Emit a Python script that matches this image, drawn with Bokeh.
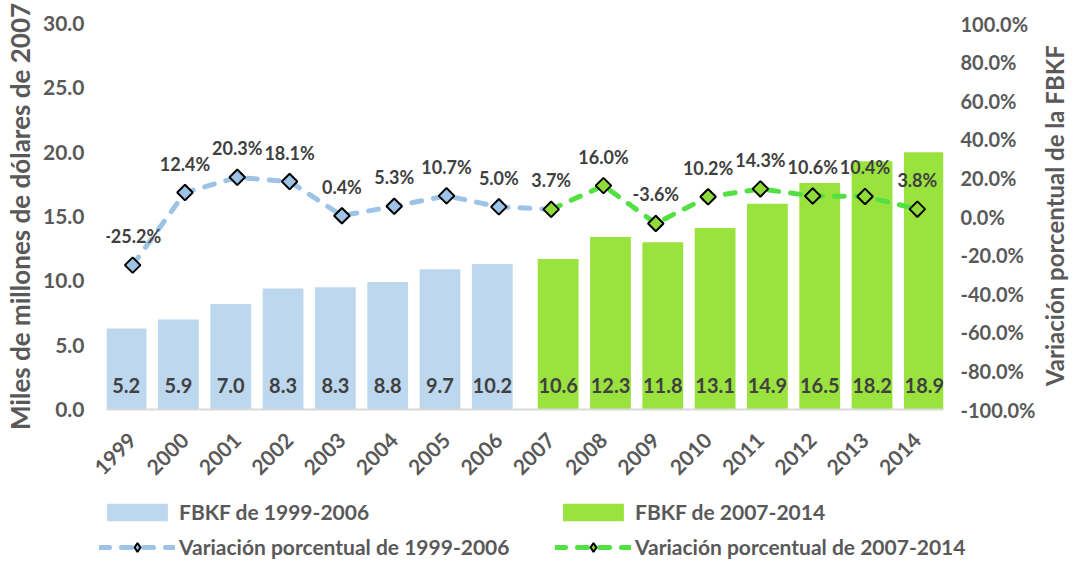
import math
from bokeh.plotting import figure
from bokeh.layouts import column, row
from bokeh.models import (Range1d, LinearAxis, FixedTicker, PrintfTickFormatter,
                          Legend, LegendItem, ColumnDataSource, Label)
from bokeh.transform import dodge
from bokeh.core.properties import value
from bokeh.embed import file_html
from bokeh.resources import INLINE

# ---------------- data ----------------
years = [1999, 2000, 2001, 2002, 2003, 2004, 2005, 2006,
         2007, 2008, 2009, 2010, 2011, 2012, 2013, 2014]
# bar heights as drawn (left axis units)
fbkf_bar = [6.3, 7.0, 8.2, 9.4, 9.5, 9.9, 10.9, 11.3,
            11.7, 13.4, 13.0, 14.1, 16.0, 17.6, 19.3, 20.0]
# data labels printed inside the bars
fbkf_label = [5.2, 5.9, 7.0, 8.3, 8.3, 8.8, 9.7, 10.2,
              10.6, 12.3, 11.8, 13.1, 14.9, 16.5, 18.2, 18.9]
# percentage change (right axis)
pct = [-25.2, 12.4, 20.3, 18.1, 0.4, 5.3, 10.7, 5.0,
       3.7, 16.0, -3.6, 10.2, 14.3, 10.6, 10.4, 3.8]
left_ticks = [0, 5, 10, 15, 20, 25, 30]
right_ticks = [-100, -80, -60, -40, -20, 0, 20, 40, 60, 80, 100]
left_title = "Miles de millones de dólares de 2007"
right_title = "Variación porcentual de la FBKF"
series_names = ["FBKF de 1999-2006", "FBKF de 2007-2014",
                "Variación porcentual de 1999-2006",
                "Variación porcentual de 2007-2014"]
split = 8  # first 8 years: 1999-2006

# ---------------- style ----------------
FONT = "Lato"
BLUE_BAR = "#BDD7EE"
GREEN_BAR = "#9AE33E"
BLUE_LINE = "#9DC3E6"
GREEN_LINE = "#52E043"
GREEN_MARK = "#8FDB3A"
AXIS_TXT = "#595959"
LBL_TXT = "#404040"
W = 1070
RW = 32          # strip holding the right axis title
H_MAIN = 490
H_LEG = 73

src_b = ColumnDataSource(dict(x=years[:split], top=fbkf_bar[:split],
                              lab=[f"{v:.1f}" for v in fbkf_label[:split]]))
src_g = ColumnDataSource(dict(x=years[split:], top=fbkf_bar[split:],
                              lab=[f"{v:.1f}" for v in fbkf_label[split:]]))
src_lb = ColumnDataSource(dict(x=years[:split + 1], y=pct[:split + 1]))
src_mb = ColumnDataSource(dict(x=years[:split], y=pct[:split],
                               lab=[f"{v:.1f}%" for v in pct[:split]]))
src_g2 = ColumnDataSource(dict(x=years[split:], y=pct[split:],
                               lab=[f"{v:.1f}%" for v in pct[split:]]))

p = figure(width=W - RW, height=H_MAIN, output_backend="svg", toolbar_location=None,
           x_range=Range1d(years[0] - 0.5, years[-1] + 0.5),
           y_range=Range1d(left_ticks[0], left_ticks[-1]),
           min_border_left=102, min_border_right=95,
           min_border_top=23, min_border_bottom=81)
p.outline_line_color = None
p.xgrid.visible = False
p.ygrid.visible = False

p.extra_y_ranges = {"pct": Range1d(right_ticks[0], right_ticks[-1])}

bar_w = 0.78
BAR_B = dict(fill_color=BLUE_BAR, line_color=None)
BAR_G = dict(fill_color=GREEN_BAR, line_color=None)
p.vbar(x=dodge("x", -0.125), top="top", width=bar_w, source=src_b, **BAR_B)
p.vbar(x=dodge("x", 0.134), top="top", width=bar_w, source=src_g, **BAR_G)

# bar value labels (inside base)
p.text(x=dodge("x", -0.125), y=0, text="lab", source=src_b, y_offset=-24,
       text_font=value(FONT), text_font_style="bold", text_font_size="20px",
       text_color=LBL_TXT, text_align="center", text_baseline="middle")
p.text(x=dodge("x", 0.134), y=0, text="lab", source=src_g, y_offset=-24,
       text_font=value(FONT), text_font_style="bold", text_font_size="20px",
       text_color=LBL_TXT, text_align="center", text_baseline="middle")

LINE_KW = dict(line_width=5, line_dash="10 12", line_cap="round")
p.line("x", "y", source=src_lb, y_range_name="pct", line_color=BLUE_LINE, **LINE_KW)
p.line("x", "y", source=src_g2, y_range_name="pct", line_color=GREEN_LINE, **LINE_KW)
p.scatter("x", "y", source=src_mb, y_range_name="pct", marker="square",
          angle=math.pi / 4, size=11, fill_color=BLUE_LINE,
          line_color="black", line_width=2)
p.scatter("x", "y", source=src_g2, y_range_name="pct", marker="square",
          angle=math.pi / 4, size=11, fill_color=GREEN_MARK,
          line_color="black", line_width=2)

for s in (src_mb, src_g2):
    p.text("x", "y", text="lab", source=s, y_range_name="pct", y_offset=-29,
           text_font=value(FONT), text_font_style="bold", text_font_size="18px",
           text_color=LBL_TXT, text_align="center", text_baseline="middle")

# ---------------- axes ----------------
def style_axis(ax, size="21px"):
    ax.major_tick_line_color = None
    ax.minor_tick_line_color = None
    ax.major_tick_out = 0
    ax.major_tick_in = 0
    ax.minor_tick_out = 0
    ax.minor_tick_in = 0
    ax.major_label_text_font = FONT
    ax.major_label_text_font_style = "bold"
    ax.major_label_text_font_size = size
    ax.major_label_text_color = AXIS_TXT
    ax.axis_label_text_font = FONT
    ax.axis_label_text_font_style = "bold"
    ax.axis_label_text_font_size = "26px"
    ax.axis_label_text_color = AXIS_TXT

xa = p.xaxis[0]
style_axis(xa)
xa.ticker = FixedTicker(ticks=years)
xa.major_label_orientation = math.pi / 4
xa.axis_line_color = "#D9D9D9"
xa.axis_line_width = 2
xa.major_label_standoff = 27

ya = p.yaxis[0]
style_axis(ya)
ya.ticker = FixedTicker(ticks=left_ticks)
ya.formatter = PrintfTickFormatter(format="%.1f")
ya.axis_line_color = None
ya.major_label_standoff = 22
ya.axis_label = left_title
ya.axis_label_standoff = 4

ra = LinearAxis(y_range_name="pct", ticker=FixedTicker(ticks=right_ticks),
                formatter=PrintfTickFormatter(format="%.1f%%"))
style_axis(ra, "20px")
ra.axis_line_color = None
ra.major_label_standoff = 17
p.add_layout(ra, "right")

# ---------------- right axis title (narrow strip, reads bottom-to-top) -------
r = figure(width=RW, height=H_MAIN, output_backend="svg", toolbar_location=None,
           x_axis_type=None, y_axis_type=None,
           x_range=Range1d(0, 1), y_range=Range1d(0, 1),
           min_border_left=0, min_border_right=0,
           min_border_top=0, min_border_bottom=0)
r.frame_align = False
r.outline_line_color = None
r.xgrid.visible = False
r.ygrid.visible = False
r.add_layout(Label(x=0.5, y=0.561, text=right_title, angle=math.pi / 2,
                   text_align="center", text_baseline="middle",
                   text_font=FONT, text_font_style="bold",
                   text_font_size="24px", text_color=AXIS_TXT))

# ---------------- legend (separate strip under the chart) ----------------
q = figure(width=W, height=H_LEG, output_backend="svg", toolbar_location=None,
           x_axis_type=None, y_axis_type=None,
           x_range=Range1d(0, 1), y_range=Range1d(0, 1),
           min_border_left=0, min_border_right=0,
           min_border_top=0, min_border_bottom=0)
q.frame_align = False
q.outline_line_color = None
q.xgrid.visible = False
q.ygrid.visible = False
# legend proxies: same data, drawn outside this strip's visible range
qb = q.vbar(x=years[:split], top=fbkf_bar[:split], width=bar_w, **BAR_B)
qg = q.vbar(x=years[split:], top=fbkf_bar[split:], width=bar_w, **BAR_G)
qlb = q.line(x=years[:split], y=pct[:split], line_color=BLUE_LINE, **LINE_KW)
qmb = q.scatter(x=years[:split], y=pct[:split], marker="diamond", size=17,
                fill_color=BLUE_LINE, line_color="black", line_width=2)
qlg = q.line(x=years[split:], y=pct[split:], line_color=GREEN_LINE, **LINE_KW)
qmg = q.scatter(x=years[split:], y=pct[split:], marker="diamond", size=17,
                fill_color=GREEN_MARK, line_color="black", line_width=2)

legend = Legend(items=[
    LegendItem(label=series_names[0], renderers=[qb]),
    LegendItem(label=series_names[1], renderers=[qg]),
    LegendItem(label=series_names[2], renderers=[qlb, qmb]),
    LegendItem(label=series_names[3], renderers=[qlg, qmg]),
], orientation="horizontal", ncols=2, location=(99, 4))
legend.label_text_font = FONT
legend.label_text_font_style = "bold"
legend.label_text_font_size = "21px"
legend.label_text_color = AXIS_TXT
legend.glyph_width = 76
legend.glyph_height = 22
legend.label_standoff = 4
legend.label_width = 366
legend.spacing = 10
legend.padding = 0
legend.margin = 0
legend.border_line_color = None
legend.background_fill_alpha = 0
q.add_layout(legend, "center")

layout = column(row(p, r, spacing=0), q, spacing=0)
open("out.html", "w").write(file_html(layout, INLINE))
